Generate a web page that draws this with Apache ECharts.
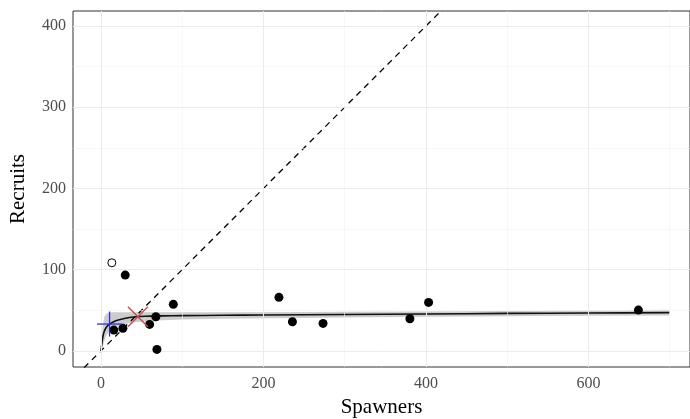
<!DOCTYPE html>
<html><head><meta charset="utf-8">
<script src="https://cdn.jsdelivr.net/npm/echarts@6/dist/echarts.min.js"></script>
<style>html,body{margin:0;padding:0;background:#fff}#c{width:690px;height:419px}</style>
</head><body><div id="c"></div>
<script>
// observed stock-recruit pairs [Spawners, Recruits]
const obsFilled = [[15.8,25.5],[26.9,27.6],[29.8,93.2],[59.8,32.5],[67.5,41.9],[68.8,1.7],[89,57.2],
  [219,65.8],[235.6,35.7],[273.3,33.7],[380.2,39.4],[403.2,59.6],[661.5,50.1]];
const obsOpen = [[13.3,108.4]];
// fitted curve and confidence band
const curveS = [0,2,4,7,10,15,20,30,40,55,75,100,150,200,300,400,500,600,700];
const curveR = [0,16,24,29.5,32.5,35.5,37.5,40,41.5,42.5,43,43.3,43.7,44,44.6,45.3,46,46.5,47];
const bandUpper = [0,30,42,46,47,47.5,47.5,47.5,47.5,47.5,47.5,47.5,47.5,47.5,48,48.5,49,49.5,50.5];
const bandLower = [0,5,12,20,24,28,30,33,35,36.5,37.5,38.5,39.5,40,41,42,42.5,43,43.5];
// 1:1 replacement line
const refLine = [[-40,-40],[450,450]];
// reference points
const plusPt = [10.5,32.9];
const crossPt = [45.4,41.9];
// ticks
const xTicks = [0,200,400,600];
const xMinor = [100,300,500,700];
const yTicks = [0,100,200,300,400];
const yMinor = [50,150,250,350];

const chart = echarts.init(document.getElementById('c'));
const font = 'Liberation Serif, Times New Roman, serif';
const curveData = curveS.map((s,i)=>[s,curveR[i]]);

function gridLines(){
  const d = [];
  xMinor.forEach(v=>d.push({xAxis:v, lineStyle:{color:'#f4f4f4',width:0.6,type:'solid'}}));
  yMinor.forEach(v=>d.push({yAxis:v, lineStyle:{color:'#f4f4f4',width:0.6,type:'solid'}}));
  xTicks.forEach(v=>d.push({xAxis:v, lineStyle:{color:'#ebebeb',width:1,type:'solid'}}));
  yTicks.forEach(v=>d.push({yAxis:v, lineStyle:{color:'#ebebeb',width:1,type:'solid'}}));
  return d;
}

chart.setOption({
  animation:false,
  grid:{left:73,right:0,top:11,bottom:52,show:true,borderColor:'#333',borderWidth:1,backgroundColor:'#fff',
    containLabel:false,outerBoundsMode:'none'},
  xAxis:{type:'value',min:-34.5,max:725,
    name:'Spawners',nameLocation:'middle',nameGap:30,
    nameTextStyle:{fontFamily:font,fontSize:21,color:'#000'},
    axisLine:{show:false},splitLine:{show:false},
    axisTick:{show:true,length:4,customValues:xTicks,lineStyle:{color:'#333'}},
    axisLabel:{customValues:xTicks,fontFamily:font,fontSize:16,color:'#4d4d4d',margin:9}},
  yAxis:{type:'value',min:-20,max:418.5,
    name:'Recruits',nameLocation:'middle',nameGap:44,nameRotate:90,
    nameTextStyle:{fontFamily:font,fontSize:21,color:'#000'},
    axisLine:{show:false},splitLine:{show:false},
    axisTick:{show:true,length:4,customValues:yTicks,lineStyle:{color:'#333'}},
    axisLabel:{customValues:yTicks,fontFamily:font,fontSize:16,color:'#4d4d4d',margin:7}},
  series:[
    {type:'line',data:[],silent:true,markLine:{silent:true,symbol:'none',label:{show:false},
      lineStyle:{type:'solid'},emphasis:{disabled:true},data:gridLines()}},
    {type:'custom',silent:true,data:[[0,0]],z:2,
      renderItem:function(params,api){
        const pts=[];
        for(let i=0;i<curveS.length;i++) pts.push(api.coord([curveS[i],bandUpper[i]]));
        for(let i=curveS.length-1;i>=0;i--) pts.push(api.coord([curveS[i],bandLower[i]]));
        return {type:'polygon',shape:{points:pts},style:{fill:'#cccccc',stroke:null}};
      }},
    {type:'line',data:refLine,showSymbol:false,symbol:'none',z:3,
      lineStyle:{color:'#000',width:1.3,type:[6,5]}},
    {type:'line',data:curveData,showSymbol:false,symbol:'none',smooth:0.3,z:4,
      lineStyle:{color:'#111',width:1.6}},
    {type:'scatter',data:obsFilled,symbol:'circle',symbolSize:9,z:5,
      itemStyle:{color:'#000',opacity:1}},
    {type:'scatter',data:obsOpen,symbol:'circle',symbolSize:8,z:5,
      itemStyle:{color:'#fff',borderColor:'#000',borderWidth:1,opacity:1}},
    {type:'custom',data:[plusPt],z:6,
      renderItem:function(params,api){
        const c=api.coord([api.value(0),api.value(1)]);const h=12.5;const w=1.3;
        return {type:'group',children:[
          {type:'rect',shape:{x:c[0]-h,y:c[1]-w/2,width:2*h,height:w},style:{fill:'#2f2fd0'}},
          {type:'rect',shape:{x:c[0]-w/2,y:c[1]-h,width:w,height:2*h},style:{fill:'#2f2fd0'}}]};
      }},
    {type:'custom',data:[crossPt],z:6,
      renderItem:function(params,api){
        const c=api.coord([api.value(0),api.value(1)]);const h=10;
        return {type:'group',children:[
          {type:'line',shape:{x1:c[0]-h,y1:c[1]-h,x2:c[0]+h,y2:c[1]+h},style:{stroke:'#c84a4a',lineWidth:1.4}},
          {type:'line',shape:{x1:c[0]-h,y1:c[1]+h,x2:c[0]+h,y2:c[1]-h},style:{stroke:'#c84a4a',lineWidth:1.4}}]};
      }}
  ]
});
</script></body></html>
